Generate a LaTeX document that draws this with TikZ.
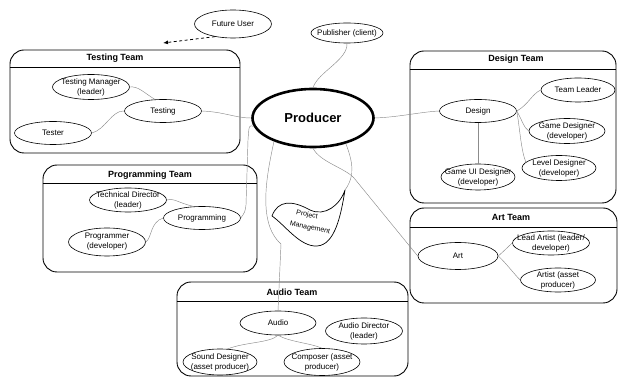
\documentclass[tikz,border=0pt]{standalone}
\usepackage{fontspec}
\setmainfont{Liberation Sans}
\usetikzlibrary{shapes.geometric,arrows.meta}
\begin{document}
\begin{tikzpicture}[x=1pt,y=-1pt,
  rtext/.style={font=\fontsize{8}{10}\selectfont, align=center, inner sep=0pt},
  role/.style={ellipse, draw, line width=0.6pt, inner sep=0pt, fill=white,
    label={[rtext]center:{#1}}},
  team/.style={draw, line width=0.9pt, rounded corners=14pt, inner sep=0pt},
  bar/.style={draw, line width=0.8pt},
  ttl/.style={font=\fontsize{9}{10}\selectfont\bfseries, inner sep=0pt},
  link/.style={draw=black!45, line width=0.45pt},
  pmtext/.style={font=\fontsize{7}{8}\selectfont, inner sep=0pt, rotate=-12},
  ]
\useasboundingbox (0,0) rectangle (619,379);

% team containers with their title bars
\node[team, minimum width=230pt, minimum height=103pt] (testbox) at (125,101.5) {};
\draw[bar] (testbox.west |- 0,67) -- (testbox.east |- 0,67);
\node[ttl] (testttl) at (115,58) {Testing Team};

\node[team, minimum width=214pt, minimum height=107pt] (progbox) at (150,218.5) {};
\draw[bar] (progbox.west |- 0,183) -- (progbox.east |- 0,183);
\node[ttl] (progttl) at (150,175) {Programming Team};

\node[team, minimum width=206pt, minimum height=152pt] (desbox) at (513,127) {};
\draw[bar] (desbox.west |- 0,69) -- (desbox.east |- 0,69);
\node[ttl] (desttl) at (516,59) {Design Team};

\node[team, minimum width=207pt, minimum height=95pt] (artbox) at (513.5,255.5) {};
\draw[bar] (artbox.west |- 0,227) -- (artbox.east |- 0,227);
\node[ttl] (artttl) at (511,217) {Art Team};

\node[team, minimum width=231pt, minimum height=94pt] (audbox) at (292.5,329) {};
\draw[bar] (audbox.west |- 0,301) -- (audbox.east |- 0,301);
\node[ttl] (audttl) at (292,292) {Audio Team};

% central producer and outside parties
\node[ellipse, draw, line width=2.6pt, minimum width=121pt, minimum height=58pt,
  inner sep=0pt, font=\fontsize{13}{15}\selectfont\bfseries] (prod) at (313,118) {Producer};
\node[role={Future User}, minimum width=77pt, minimum height=28pt] (fu) at (233,24) {};
\node[role={Publisher (client)}, minimum width=72pt, minimum height=20pt] (pub) at (347,33) {};
\coordinate (fuend) at (163,43);

% testing team
\node[role={Testing Manager\\(leader)}, minimum width=77pt, minimum height=25pt] (tm) at (91,87) {};
\node[role={Testing}, minimum width=77pt, minimum height=23pt] (testing) at (163,111) {};
\node[role={Tester}, minimum width=77pt, minimum height=23pt] (tester) at (53,133) {};

% programming team
\node[role={Technical Director\\(leader)}, minimum width=77pt, minimum height=24pt] (td) at (128,200) {};
\node[role={Programming}, minimum width=77pt, minimum height=23pt] (prog) at (202,218) {};
\node[role={Programmer\\(developer)}, minimum width=77pt, minimum height=28pt] (pgr) at (107,242) {};

% design team
\node[role={Design}, minimum width=77pt, minimum height=23pt] (design) at (478,111) {};
\node[role={Team Leader}, minimum width=74pt, minimum height=24pt] (tl) at (578,90) {};
\node[role={Game Designer\\(developer)}, minimum width=76pt, minimum height=25pt] (gd) at (567,131) {};
\node[role={Level Designer\\(developer)}, minimum width=74pt, minimum height=25pt] (ld) at (559,168) {};
\node[role={Game UI Designer\\(developer)}, minimum width=74pt, minimum height=26pt] (gui) at (478,177) {};

% art team
\node[role={Art}, minimum width=80pt, minimum height=27pt] (art) at (458,256) {};
\node[role={Lead Artist (leader/\\developer)}, minimum width=77pt, minimum height=24pt] (la) at (551,243) {};
\node[role={Artist (asset\\producer)}, minimum width=75pt, minimum height=24pt] (ar) at (558,280) {};

% audio team
\node[role={Audio}, minimum width=76pt, minimum height=24pt] (audio) at (278,323) {};
\node[role={Audio Director\\(leader)}, minimum width=77pt, minimum height=26pt] (ad) at (364,331) {};
\node[role={Sound Designer\\(asset producer)}, minimum width=74pt, minimum height=26pt] (sd) at (220,362) {};
\node[role={Composer (asset\\producer)}, minimum width=76pt, minimum height=27pt] (comp) at (322,362) {};

% project management banner
\coordinate (pmtip) at (345,190);
\draw[line width=0.7pt, fill=white] (272,216) .. controls (278,200) and (292,200) .. (310,210)
  .. controls (325,217) and (340,205) .. (pmtip)
  .. controls (341,215) and (335,245) .. (317,246)
  .. controls (300,247) and (285,225) .. (272,216) -- cycle;
\node[pmtext] (pm) at (307,215) {Project};
\node[pmtext] (pm2) at (310,228) {Management};

% links from the producer
\draw[link] (pub.south) .. controls (348,60) and (318,72) .. (prod.north);
\draw[link] (testing.east) .. controls (225,112) and (235,118) .. (prod.west);
\draw[link] (prod.188) .. controls (249,125) .. (248,140) -- (246,205) .. controls (245,212) .. (prog.east);
\draw[link] (prod.211) .. controls (268,170) and (256,222) .. (281,244) -- (audio.north);
\draw[link] (prod.-38) .. controls (352,160) and (356,175) .. (pmtip);
\draw[link] (prod.south) .. controls (320,162) and (345,168) .. (354,178) -- (art.west);
\draw[link] (prod.east) .. controls (400,117) and (420,112) .. (design.west);
\draw[dashed, dash pattern=on 3pt off 2.5pt, line width=0.8pt, -{Latex[length=5pt,width=4pt]}] (fu.215) -- (fuend);

% links inside the teams
\draw[link] (tm.east) .. controls (138,86) and (143,92) .. (testing.125);
\draw[link] (tester.east) .. controls (105,130) and (112,110) .. (testing.west);
\draw[link] (td.east) .. controls (175,198) and (178,203) .. (prog.125);
\draw[link] (pgr.east) .. controls (152,238) and (150,222) .. (prog.west);
\draw[link] (design.east) .. controls (528,105) and (532,94) .. (tl.west);
\draw[link] (design.east) .. controls (522,120) and (524,128) .. (gd.west);
\draw[link] (design.east) .. controls (520,130) and (521,150) .. (ld.170);
\draw[link] (design.south) -- (gui.north);
\draw[link] (art.east) .. controls (505,250) and (510,245) .. (la.west);
\draw[link] (art.east) .. controls (505,262) and (515,275) .. (ar.west);
\draw[link] (audio.south) .. controls (270,343) and (245,342) .. (sd.60);
\draw[link] (audio.south) .. controls (290,342) and (310,343) .. (comp.north);
\end{tikzpicture}
\end{document}
